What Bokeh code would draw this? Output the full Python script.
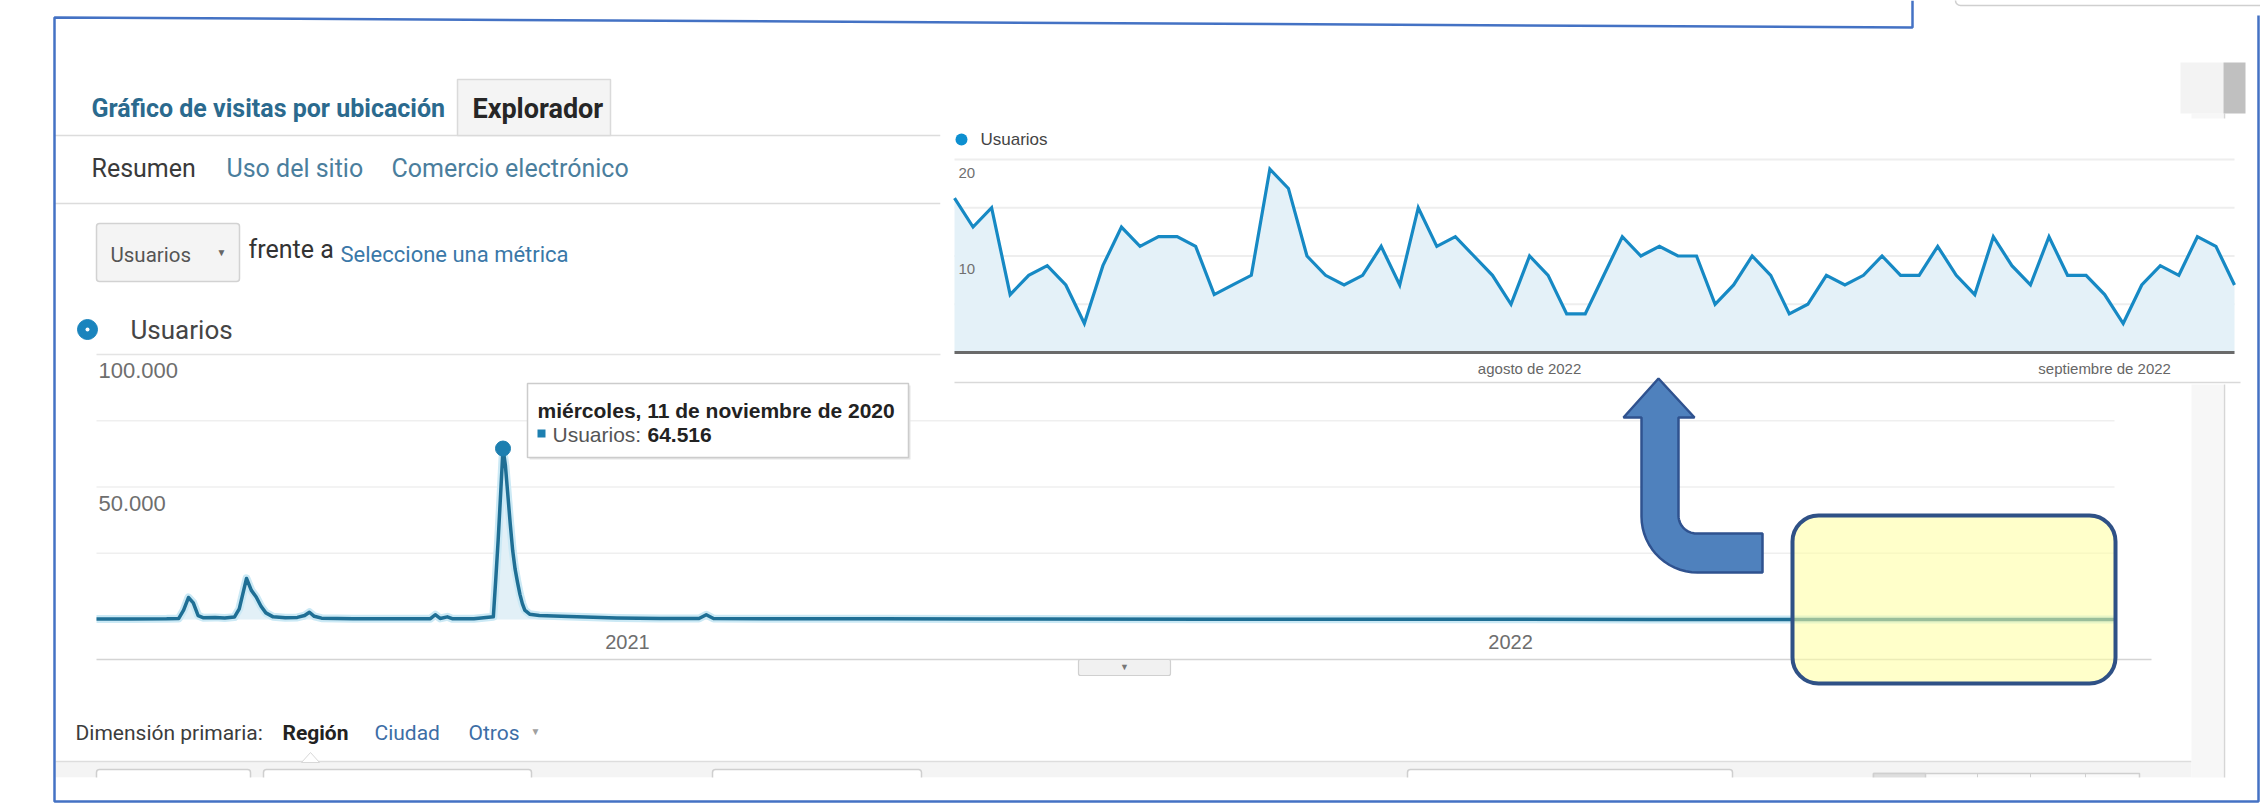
import numpy as np
import pandas as pd
from bokeh.plotting import figure
from bokeh.models import Range1d
from bokeh.core.properties import value
from bokeh.embed import file_html
from bokeh.resources import INLINE

# ------------------------------------------------------------------ data
main_dates = ["2020-05-27", "2020-06-10", "2020-06-25", "2020-06-30", "2020-07-02",
              "2020-07-04", "2020-07-06", "2020-07-08", "2020-07-10", "2020-07-15",
              "2020-07-19", "2020-07-23", "2020-07-25", "2020-07-28", "2020-07-30",
              "2020-08-01", "2020-08-03", "2020-08-05", "2020-08-08", "2020-08-13",
              "2020-08-18", "2020-08-21", "2020-08-23", "2020-08-25", "2020-08-28",
              "2020-09-10", "2020-09-30", "2020-10-12", "2020-10-14", "2020-10-16",
              "2020-10-19", "2020-10-21", "2020-10-30", "2020-11-07", "2020-11-08",
              "2020-11-09", "2020-11-10", "2020-11-11", "2020-11-12", "2020-11-13",
              "2020-11-14", "2020-11-15", "2020-11-16", "2020-11-17", "2020-11-18",
              "2020-11-19", "2020-11-20", "2020-11-22", "2020-11-26", "2020-12-05",
              "2020-12-15", "2020-12-28", "2021-01-15", "2021-01-31", "2021-02-03",
              "2021-02-06", "2021-03-01", "2021-04-15", "2021-06-01", "2021-09-01",
              "2021-12-01", "2022-03-01", "2022-06-01", "2022-07-01", "2022-09-08"]
main_users = [150, 200, 250, 400, 3500,
              8300, 6300, 1500, 700, 800,
              600, 900, 4000, 15500, 11000,
              8500, 5000, 2500, 1000, 700,
              800, 1500, 2750, 1200, 500,
              300, 250, 300, 1800, 400,
              1000, 300, 300, 1000, 15000,
              30000, 47000, 64516, 58000, 47000,
              36000, 26000, 19000, 14000, 9500,
              6000, 3500, 2000, 1500, 1200,
              900, 600, 400, 400, 1800,
              400, 300, 250, 150, 100,
              60, 30, 15, 16, 7]
peak_date = "2020-11-11"
peak_users = 64516
main_grid_values = [25000, 50000, 75000, 100000]
main_y_ticks = [50000, 100000]
main_y_tick_labels = ["50.000", "100.000"]
main_x_ticks = ["2021-01-01", "2022-01-01"]
main_x_tick_labels = ["2021", "2022"]

inset_start = "2022-07-01"
inset_users = [16, 13, 15, 6, 8, 9, 7, 3, 9, 13,
               11, 12, 12, 11, 6, 7, 8, 19, 17, 10,
               8, 7, 8, 11, 7, 15, 11, 12, 10, 8,
               5, 10, 8, 4, 4, 8, 12, 10, 11, 10,
               10, 5, 7, 10, 8, 4, 5, 8, 7, 8,
               10, 8, 8, 11, 8, 6, 12, 9, 7, 12,
               8, 8, 6, 3, 7, 9, 8, 12, 11, 7]
inset_grid_values = [5, 10, 15, 20]
inset_y_ticks = [10, 20]
inset_y_tick_labels = ["10", "20"]
inset_x_ticks = ["2022-08-01", "2022-09-01"]
inset_x_tick_labels = ["agosto de 2022", "septiembre de 2022"]


def ms(d):
    return pd.Timestamp(d).value / 1e6


main_x = [ms(d) for d in main_dates]
inset_dates = pd.date_range(inset_start, periods=len(inset_users), freq="D")
inset_x = [d.value / 1e6 for d in inset_dates]

# ------------------------------------------------------------------ canvas (screen-pixel coordinates)
W, H = 2260, 810
p = figure(width=W, height=H, x_range=Range1d(0, W), y_range=Range1d(H, 0),
           output_backend="svg", toolbar_location=None, min_border=0,
           x_axis_location=None, y_axis_location=None)
p.outline_line_color = None
p.background_fill_color = "white"
p.border_fill_color = "white"
for g in p.grid:
    g.visible = False


def lin_range(s_a, v_a, s_b, v_b, lo, hi):
    k = (v_b - v_a) / (s_b - s_a)
    return Range1d(v_a + (lo - s_a) * k, v_a + (hi - s_a) * k)


# main chart placement: first/last day, zero and 100.000 rows
p.extra_x_ranges["main"] = lin_range(96, main_x[0], 2114, main_x[-1], 0, W)
p.extra_y_ranges["main"] = lin_range(619, 0, 354, 100000, H, 0)
# inset placement
p.extra_x_ranges["ins"] = lin_range(954, inset_x[0], 2234, inset_x[-1], 0, W)
p.extra_y_ranges["ins"] = lin_range(352, 0, 159, 20, H, 0)

ROBOTO = value("Roboto")
ARIAL = value("Liberation Sans")


def txt(x, y, s, size, color, font=ROBOTO, style="normal", align="left",
        baseline="middle", **kw):
    p.text(x=[x], y=[y], text=[s], text_font=font, text_font_size=value(f"{size}px"),
           text_color=color, text_font_style=style, text_align=align,
           text_baseline=baseline, **kw)


# ------------------------------------------------------------------ page chrome
# top-right search box edge
p.quad(left=[1955], right=[2300], top=[-20], bottom=[5], fill_color="white",
       line_color="#cfcfcf", line_width=1.5, border_radius=5)

# header tabs
p.segment(x0=[54], y0=[135], x1=[940], y1=[135], line_color="#dcdcdc", line_width=1.5)
p.quad(left=[457], right=[610], top=[79], bottom=[135], fill_color="#f4f4f4",
       line_color="#dadada", line_width=1.5)
txt(91, 108, "Gráfico de visitas por ubicación", 25, "#2b6a8e", style="bold")
txt(472, 108, "Explorador", 27, "#262626", style="bold")

txt(91, 168, "Resumen", 25, "#3a3a3a")
txt(226, 168, "Uso del sitio", 25, "#4a7e9d")
txt(391, 168, "Comercio electrónico", 25, "#4a7e9d")
p.segment(x0=[54], y0=[203], x1=[940], y1=[203], line_color="#dcdcdc", line_width=1.5)

# metric selector
p.quad(left=[96], right=[239], top=[223], bottom=[281], fill_color="#f4f4f4",
       line_color="#d2d2d2", line_width=1.5, border_radius=3)
txt(110, 254, "Usuarios", 20.5, "#555555")
txt(221, 252, "▼", 10, "#666666", align="center")
txt(248, 249, "frente a", 25, "#333333")
txt(340, 254, "Seleccione una métrica", 22, "#3a78a8")

# main legend
p.scatter(x=[87], y=[329], size=20, fill_color="#1a84bd", line_color="#1a84bd")
p.scatter(x=[87], y=[329], size=4, fill_color="white", line_color=None)
txt(130, 329, "Usuarios", 26, "#454545")

# ------------------------------------------------------------------ main chart
MR = dict(x_range_name="main", y_range_name="main")
for gv in main_grid_values:
    p.segment(x0=[main_x[0]], y0=[gv], x1=[main_x[-1]], y1=[gv],
              line_color="#e4e4e4" if gv == 100000 else "#efefef", line_width=1.5, **MR)
p.segment(x0=[96], y0=[659], x1=[2151], y1=[659], line_color="#d4d4d4", line_width=1.5)

p.varea(x=main_x, y1=[0] * len(main_x), y2=main_users, fill_color="#e2f0f7", **MR)
p.line(x=main_x, y=main_users, line_color="#cbe9f5", line_width=8, line_join="round", **MR)
p.line(x=main_x, y=main_users, line_color="#1f6f95", line_width=3.5, line_join="round", **MR)
p.scatter(x=[ms(peak_date)], y=[peak_users], size=15, fill_color="#1d7fb0",
          line_color="#1d7fb0", **MR)

for v, lab in zip(main_y_ticks, main_y_tick_labels):
    p.text(x=[main_x[0]], y=[v], text=[lab], x_offset=2, y_offset=16, text_font=ARIAL,
           text_font_size=value("22px"), text_color="#6e6e6e", text_baseline="middle", **MR)
for d, lab in zip(main_x_ticks, main_x_tick_labels):
    p.text(x=[ms(d)], y=[0], text=[lab], x_offset=1, y_offset=22, text_font=ARIAL,
           text_font_size=value("20px"), text_color="#6e6e6e", text_align="center",
           text_baseline="middle", **MR)

# expand button under the chart
p.quad(left=[1078], right=[1170], top=[659], bottom=[675], fill_color="#f1f1f1",
       line_color="#d0d0d0", line_width=1.2, border_radius=2)
txt(1124, 666, "▼", 9, "#777777", align="center")

# tooltip
p.quad(left=[529], right=[910], top=[385], bottom=[459], fill_color="#e6e6e6", line_color=None)
p.quad(left=[527], right=[908], top=[383], bottom=[457], fill_color="white",
       line_color="#cccccc", line_width=1.5)
txt(537, 410, "miércoles, 11 de noviembre de 2020", 21, "#222222", font=ARIAL, style="bold")
p.quad(left=[537], right=[545], top=[429], bottom=[437], fill_color="#1d7fb0", line_color=None)
txt(552, 434, "Usuarios:", 21, "#555555", font=ARIAL)
txt(647, 434, "64.516", 21, "#222222", font=ARIAL, style="bold")

# ------------------------------------------------------------------ bottom strip
txt(75, 732, "Dimensión primaria:", 21, "#3c3c3c")
txt(282, 732, "Región", 21, "#222222", style="bold")
txt(374, 732, "Ciudad", 21, "#3d6ea6")
txt(468, 732, "Otros", 21, "#3d6ea6")
txt(530, 731, "▼", 10, "#a0a0a0")
p.quad(left=[55], right=[2191], top=[761], bottom=[777], fill_color="#f4f4f4", line_color=None)
p.segment(x0=[55], y0=[761], x1=[2191], y1=[761], line_color="#dddddd", line_width=1.5)
p.patch(x=[301, 310, 319], y=[762, 752, 762], fill_color="white", line_color="#d8d8d8")
for l, r in [(96, 250), (263, 531), (712, 921), (1407, 1732)]:
    p.quad(left=[l], right=[r], top=[769], bottom=[790], fill_color="white",
           line_color="#cfcfcf", line_width=1.5, border_radius=3)
p.quad(left=[1873], right=[2139], top=[773], bottom=[790], fill_color="#fafafa",
       line_color="#cfcfcf", line_width=1.5)
p.quad(left=[1873], right=[1925], top=[773], bottom=[790], fill_color="#dedede",
       line_color="#cfcfcf", line_width=1.5)
for sx in [1977, 2030, 2085]:
    p.segment(x0=[sx], y0=[773], x1=[sx], y1=[777], line_color="#cfcfcf")
p.quad(left=[40], right=[2256], top=[777], bottom=[810], fill_color="white", line_color=None)

# right strip / scrollbar
p.quad(left=[2191], right=[2223], top=[113], bottom=[777], fill_color="#f7f7f7", line_color=None)
p.segment(x0=[2224], y0=[113], x1=[2224], y1=[777], line_color="#d6d6d6", line_width=1.5)
p.quad(left=[2180], right=[2223], top=[62], bottom=[113], fill_color="#f3f3f3", line_color=None)
p.quad(left=[2223], right=[2245], top=[62], bottom=[113], fill_color="#c0c0c0", line_color=None)

# ------------------------------------------------------------------ inset chart
p.quad(left=[940], right=[2245], top=[118], bottom=[384], fill_color="white", line_color=None)
IR = dict(x_range_name="ins", y_range_name="ins")
p.segment(x0=[954], y0=[382], x1=[2240], y1=[382], line_color="#d9d9d9", line_width=1.5)
for gv in inset_grid_values:
    p.segment(x0=[inset_x[0]], y0=[gv], x1=[inset_x[-1]], y1=[gv],
              line_color="#eeeeee", line_width=2, **IR)
p.varea(x=inset_x, y1=[0] * len(inset_x), y2=inset_users, fill_color="#e4f1f8", **IR)
p.line(x=inset_x, y=inset_users, line_color="#1689c4", line_width=3.2, line_join="miter", **IR)
p.segment(x0=[inset_x[0]], y0=[0], x1=[inset_x[-1]], y1=[0], line_color="#6a6a6a",
          line_width=3, **IR)
for v, lab in zip(inset_y_ticks, inset_y_tick_labels):
    p.text(x=[inset_x[0]], y=[v], text=[lab], x_offset=4, y_offset=13, text_font=ARIAL,
           text_font_size=value("15px"), text_color="#707070", text_baseline="middle", **IR)
for d, lab in zip(inset_x_ticks, inset_x_tick_labels):
    p.text(x=[ms(d)], y=[0], text=[lab], y_offset=16, text_font=ARIAL,
           text_font_size=value("15px"), text_color="#666666", text_align="center",
           text_baseline="middle", **IR)
p.scatter(x=[961], y=[139], size=12, fill_color="#0d8fd0", line_color=None)
txt(980, 139, "Usuarios", 17, "#444444", font=ARIAL)

# ------------------------------------------------------------------ annotations
# L-shaped arrow
ri, ro = 18.0, 56.0
sl, sr = 1641.0, 1678.0
ht, hb = 533.0, 572.0
th = np.linspace(0, np.pi / 2, 16)
inner_x = list(sr + ri - ri * np.cos(th))
inner_y = list(ht - ri + ri * np.sin(th))
outer_x = list(sl + ro - ro * np.cos(th))[::-1]
outer_y = list(hb - ro + ro * np.sin(th))[::-1]
ax = [1658, 1694, sr, sr] + inner_x + [1762, 1762] + outer_x + [sl, 1623]
ay = [378, 417, 417, ht - ri] + inner_y + [ht, hb] + outer_y + [417, 417]
p.patch(x=ax, y=ay, fill_color="#4f81bd", line_color="#2f528f", line_width=2.5)

# highlight box
p.quad(left=[1792], right=[2115], top=[515], bottom=[683], fill_color="#ffff9e",
       fill_alpha=0.55, line_color="#2f5186", line_width=4, border_radius=26)

# blue frame
p.line(x=[1912, 1912, 54, 54, 2258, 2258], y=[0, 27, 17, 801, 801, 15],
       line_color="#4472c4", line_width=2.5)

open("out.html", "w").write(file_html(p, INLINE))
